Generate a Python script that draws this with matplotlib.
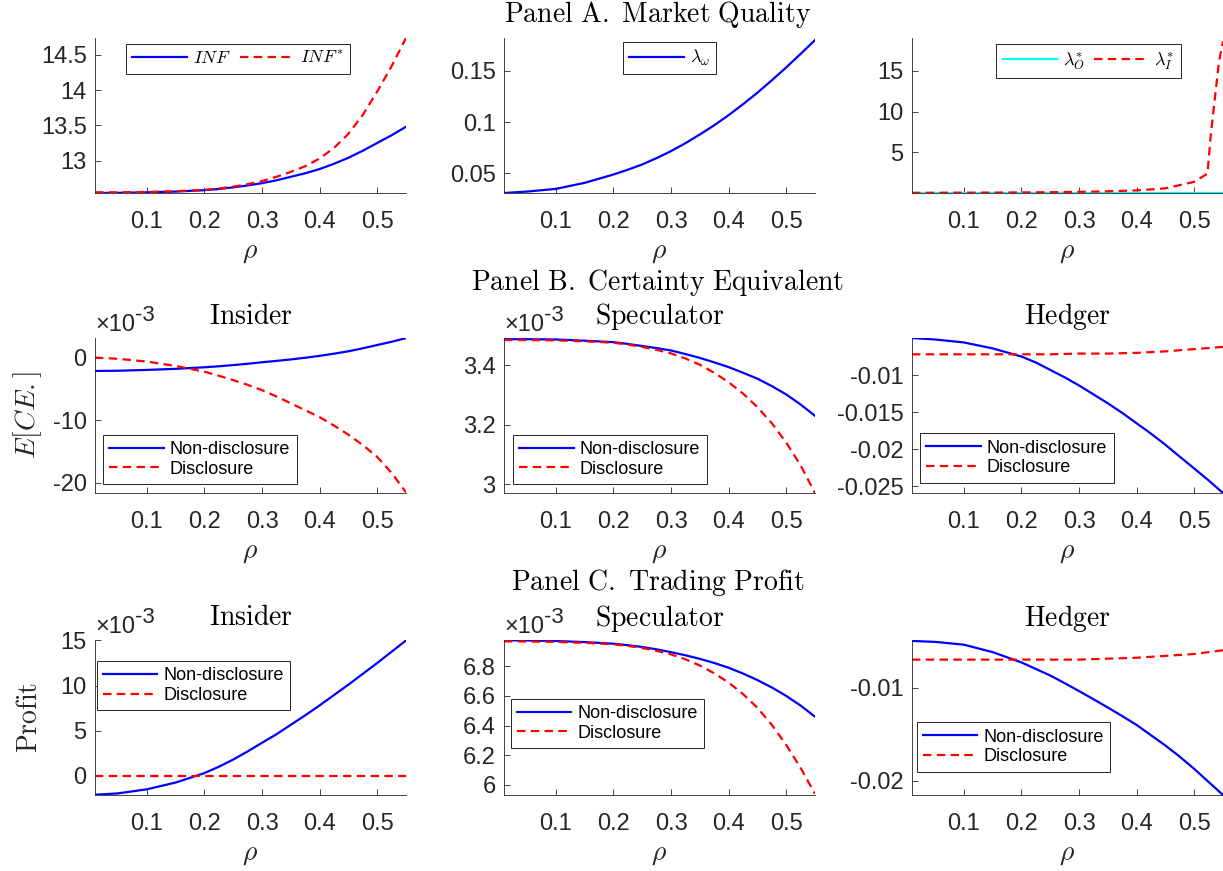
"""
Market quality, certainty equivalents and trading profits against rho.
Nine panels in a 3x3 grid, MATLAB-like styling (box off, ticks in).
"""

import matplotlib
matplotlib.use("Agg")
import matplotlib.pyplot as plt
from matplotlib.ticker import FuncFormatter

plt.rcParams["font.family"] = ["Liberation Sans", "DejaVu Sans"]
plt.rcParams["mathtext.fontset"] = "cm"
plt.rcParams["axes.unicode_minus"] = False

# rho grid the curves were read on
rho = [0.01, 0.05, 0.10, 0.15, 0.20, 0.225, 0.25, 0.275, 0.30, 0.325, 0.35, 0.375,
       0.40, 0.425, 0.45, 0.475, 0.50, 0.525, 0.55]
rho_lam_i = [0.01, 0.05, 0.10, 0.15, 0.20, 0.25, 0.30, 0.35, 0.40, 0.45, 0.50,
             0.523, 0.529, 0.543, 0.55]

# Panel A. Market quality
inf_nd = [12.54, 12.542, 12.55, 12.56, 12.58, 12.597, 12.62, 12.647, 12.68, 12.72, 12.77,
          12.82, 12.88, 12.955, 13.04, 13.14, 13.25, 13.36, 13.48]
inf_d = [12.55, 12.55, 12.555, 12.565, 12.585, 12.603, 12.63, 12.665, 12.71, 12.77, 12.84,
         12.92, 13.03, 13.18, 13.38, 13.65, 13.98, 14.34, 14.74]
lam_w = [0.031, 0.0324, 0.035, 0.0409, 0.049, 0.0537, 0.0588, 0.065, 0.0718, 0.0795, 0.088,
         0.097, 0.1068, 0.1175, 0.1287, 0.1408, 0.1533, 0.1665, 0.180]
lam_o = [0.05, 0.05, 0.05, 0.05, 0.05, 0.05, 0.05, 0.05, 0.05, 0.05, 0.05, 0.05,
         0.05, 0.05, 0.05, 0.05, 0.05, 0.05, 0.05]
lam_i = [0.05, 0.06, 0.07, 0.08, 0.10, 0.13, 0.17, 0.24, 0.35, 0.60, 1.40, 2.4, 7.3, 16.1, 18.6]

# Panel B. Certainty equivalent
ce_ins_nd = [-2.14e-3, -2.10e-3, -1.97e-3, -1.80e-3, -1.55e-3, -1.39e-3, -1.20e-3, -0.99e-3,
             -0.75e-3, -0.53e-3, -0.30e-3, -0.03e-3, 0.27e-3, 0.62e-3, 1.00e-3, 1.48e-3,
             2.00e-3, 2.52e-3, 3.10e-3]
ce_ins_d = [0.0, -0.20e-3, -0.64e-3, -1.34e-3, -2.25e-3, -2.9e-3, -3.6e-3, -4.35e-3, -5.2e-3,
            -6.2e-3, -7.3e-3, -8.4e-3, -9.5e-3, -10.85e-3, -12.3e-3, -13.95e-3, -15.85e-3,
            -18.4e-3, -21.5e-3]
ce_spe_nd = [3.488e-3, 3.488e-3, 3.487e-3, 3.483e-3, 3.478e-3, 3.472e-3, 3.465e-3, 3.458e-3,
             3.450e-3, 3.438e-3, 3.425e-3, 3.410e-3, 3.394e-3, 3.375e-3, 3.355e-3, 3.330e-3,
             3.302e-3, 3.268e-3, 3.230e-3]
ce_spe_d = [3.485e-3, 3.485e-3, 3.484e-3, 3.481e-3, 3.476e-3, 3.470e-3, 3.462e-3, 3.452e-3,
            3.440e-3, 3.423e-3, 3.402e-3, 3.375e-3, 3.343e-3, 3.305e-3, 3.259e-3, 3.205e-3,
            3.140e-3, 3.063e-3, 2.970e-3]
ce_hed_nd = [-0.0050, -0.0052, -0.0056, -0.0064, -0.0075, -0.0083, -0.0093, -0.0103, -0.0114,
             -0.0126, -0.0138, -0.0151, -0.0165, -0.0179, -0.0194, -0.0210, -0.0226, -0.0242,
             -0.0259]
ce_hed_d = [-0.0072, -0.0072, -0.0072, -0.0072, -0.0072, -0.0072, -0.0072, -0.00715, -0.0071,
            -0.0071, -0.0071, -0.00705, -0.0070, -0.0069, -0.0068, -0.00665, -0.0065, -0.00635,
            -0.0062]

# Panel C. Trading profit
pr_ins_nd = [-2.10e-3, -1.95e-3, -1.50e-3, -0.75e-3, 0.30e-3, 1.0e-3, 1.8e-3, 2.7e-3, 3.66e-3,
             4.6e-3, 5.65e-3, 6.7e-3, 7.8e-3, 8.95e-3, 10.1e-3, 11.3e-3, 12.5e-3, 13.75e-3,
             15.0e-3]
pr_ins_d = [0.0, 0.0, 0.0, 0.0, 0.0, 0.0, 0.0, 0.0, 0.0, 0.0, 0.0, 0.0, 0.0, 0.0, 0.0, 0.0,
            0.0, 0.0, 0.0]
pr_spe_nd = [6.975e-3, 6.974e-3, 6.970e-3, 6.963e-3, 6.952e-3, 6.942e-3, 6.930e-3, 6.914e-3,
             6.895e-3, 6.874e-3, 6.850e-3, 6.822e-3, 6.790e-3, 6.751e-3, 6.707e-3, 6.657e-3,
             6.600e-3, 6.535e-3, 6.460e-3]
pr_spe_d = [6.968e-3, 6.967e-3, 6.964e-3, 6.958e-3, 6.948e-3, 6.937e-3, 6.923e-3, 6.904e-3,
            6.880e-3, 6.847e-3, 6.805e-3, 6.753e-3, 6.690e-3, 6.613e-3, 6.520e-3, 6.405e-3,
            6.270e-3, 6.115e-3, 5.940e-3]
pr_hed_nd = [-0.0050, -0.0051, -0.0054, -0.0062, -0.0073, -0.0080, -0.0087, -0.00952, -0.01037,
             -0.01124, -0.01213, -0.01305, -0.0140, -0.0151, -0.0162, -0.0174, -0.0187, -0.0201,
             -0.0215]
pr_hed_d = [-0.0070, -0.0070, -0.0070, -0.0070, -0.0070, -0.0070, -0.0070, -0.0070, -0.0070,
            -0.00695, -0.0069, -0.00685, -0.0068, -0.0067, -0.0066, -0.0065, -0.0064, -0.0062,
            -0.0060]

x_ticks = [0.1, 0.2, 0.3, 0.4, 0.5]
leg_labels = ["Non-disclosure", "Disclosure"]

INK = (0.15, 0.15, 0.15)
TICK_FS = 17
LEG_FS = 13
SERIF_FS = 20
DASH = (0, (3.8, 2.4))
LW = 1.6

W, H = 1223, 871
col_left = [95, 504, 912]
row_top = [38, 338, 640]
ax_w, ax_h = 311, 155


def plain(v, p):
    return f"{v:g}"


def make_axes(fig, r, c):
    ax = fig.add_axes([col_left[c] / W, 1 - (row_top[r] + ax_h) / H, ax_w / W, ax_h / H])
    for side in ("top", "right"):
        ax.spines[side].set_visible(False)
    for side in ("left", "bottom"):
        ax.spines[side].set_color(INK)
        ax.spines[side].set_linewidth(0.6)
    ax.tick_params(direction="in", length=4, width=0.6, colors=INK, labelsize=TICK_FS)
    ax.tick_params(axis="x", pad=13)
    ax.tick_params(axis="y", pad=6)
    ax.set_xlim(0.01, 0.55)
    ax.set_xticks(x_ticks)
    ax.xaxis.set_major_formatter(FuncFormatter(plain))
    ax.yaxis.set_major_formatter(FuncFormatter(plain))
    ax.set_xlabel(r"$\rho$", fontsize=SERIF_FS, color=INK, labelpad=4)
    ax.patch.set_alpha(0)
    return ax


def milli(ax):
    ax.yaxis.set_major_formatter(FuncFormatter(lambda v, p: f"{v * 1e3:g}"))
    ax.text(0.0, 1.012, "×10", transform=ax.transAxes, ha="left", va="bottom",
            fontsize=TICK_FS, color=INK)
    ax.annotate("-3", xy=(0.0, 1.012), xycoords="axes fraction", xytext=(29, 7),
                textcoords="offset points", ha="left", va="bottom",
                fontsize=TICK_FS - 1, color=INK)


def legend(ax, handles, labels, anchor, **kw):
    leg = ax.legend(handles, labels, loc="upper left", bbox_to_anchor=anchor,
                    borderaxespad=0, fancybox=False, framealpha=1, edgecolor=INK,
                    fontsize=LEG_FS, handlelength=3.0, handletextpad=0.35,
                    borderpad=0.35, labelspacing=0.15, **kw)
    leg.get_frame().set_linewidth(0.7)
    return leg


def pair(ax, nd, d, anchor):
    h1, = ax.plot(rho, nd, color="blue", lw=LW)
    h2, = ax.plot(rho, d, color="red", lw=LW, ls=DASH)
    legend(ax, [h1, h2], leg_labels, anchor)


def main() -> None:
    fig = plt.figure(figsize=(W / 100, H / 100), dpi=100)

    # Row A
    ax = make_axes(fig, 0, 0)
    h1, = ax.plot(rho, inf_nd, color="blue", lw=LW)
    h2, = ax.plot(rho, inf_d, color="red", lw=LW, ls=DASH)
    ax.set_ylim(12.54, 14.74)
    ax.set_yticks([13, 13.5, 14, 14.5])
    legend(ax, [h1, h2], ["$INF$", "$INF^{*}$"], (0.10, 0.963), ncol=2, columnspacing=0.5)

    ax = make_axes(fig, 0, 1)
    h1, = ax.plot(rho, lam_w, color="blue", lw=LW)
    ax.set_ylim(0.031, 0.182)
    ax.set_yticks([0.05, 0.1, 0.15])
    legend(ax, [h1], [r"$\lambda_{\omega}$"], (0.383, 0.976))

    ax = make_axes(fig, 0, 2)
    h1, = ax.plot(rho, lam_o, color="cyan", lw=LW)
    h2, = ax.plot(rho_lam_i, lam_i, color="red", lw=LW, ls=DASH)
    ax.set_ylim(0.03, 19.0)
    ax.set_yticks([5, 10, 15])
    legend(ax, [h1, h2], [r"$\lambda^{*}_{O}$", r"$\lambda^{*}_{I}$"], (0.271, 0.963),
           ncol=2, columnspacing=0.5)

    # Row B
    ax = make_axes(fig, 1, 0)
    pair(ax, ce_ins_nd, ce_ins_d, (0.026, 0.377))
    ax.set_ylim(-21.6e-3, 3.12e-3)
    ax.set_yticks([-20e-3, -10e-3, 0.0])
    milli(ax)
    ax.set_ylabel(r"$E[CE.]$", fontsize=SERIF_FS, color=INK)
    ax.yaxis.set_label_coords(-0.165, 0.5)

    ax = make_axes(fig, 1, 1)
    pair(ax, ce_spe_nd, ce_spe_d, (0.029, 0.377))
    ax.set_ylim(2.97e-3, 3.492e-3)
    ax.set_yticks([3.0e-3, 3.2e-3, 3.4e-3])
    milli(ax)

    ax = make_axes(fig, 1, 2)
    pair(ax, ce_hed_nd, ce_hed_d, (0.026, 0.385))
    ax.set_ylim(-0.0259, -0.0050)
    ax.set_yticks([-0.025, -0.02, -0.015, -0.01])

    # Row C
    ax = make_axes(fig, 2, 0)
    pair(ax, pr_ins_nd, pr_ins_d, (0.006, 0.864))
    ax.set_ylim(-2.13e-3, 15.05e-3)
    ax.set_yticks([0.0, 5e-3, 10e-3, 15e-3])
    milli(ax)
    ax.set_ylabel(r"$\mathrm{Profit}$", fontsize=SERIF_FS, color=INK)
    ax.yaxis.set_label_coords(-0.167, 0.5)

    ax = make_axes(fig, 2, 1)
    pair(ax, pr_spe_nd, pr_spe_d, (0.021, 0.621))
    ax.set_ylim(5.932e-3, 6.977e-3)
    ax.set_yticks([6.0e-3, 6.2e-3, 6.4e-3, 6.6e-3, 6.8e-3])
    milli(ax)

    ax = make_axes(fig, 2, 2)
    pair(ax, pr_hed_nd, pr_hed_d, (0.016, 0.468))
    ax.set_ylim(-0.0215, -0.0049)
    ax.set_yticks([-0.02, -0.01])

    # Panel and column titles
    panel_titles = [(15, r"$\mathrm{Panel\ A.\ Market\ Quality}$"),
                    (282, r"$\mathrm{Panel\ B.\ Certainty\ Equivalent}$"),
                    (583, r"$\mathrm{Panel\ C.\ Trading\ Profit}$")]
    for y, t in panel_titles:
        fig.text(658 / W, 1 - y / H, t, ha="center", va="center", fontsize=SERIF_FS, color="black")

    col_titles = [r"$\mathrm{Insider}$", r"$\mathrm{Speculator}$", r"$\mathrm{Hedger}$"]
    for y in (317, 618):
        for c, t in enumerate(col_titles):
            fig.text((col_left[c] + ax_w / 2) / W, 1 - y / H, t, ha="center", va="center",
                     fontsize=SERIF_FS, color="black")

    fig.savefig("out.png", dpi=100)
    plt.close(fig)


if __name__ == "__main__":
    main()
